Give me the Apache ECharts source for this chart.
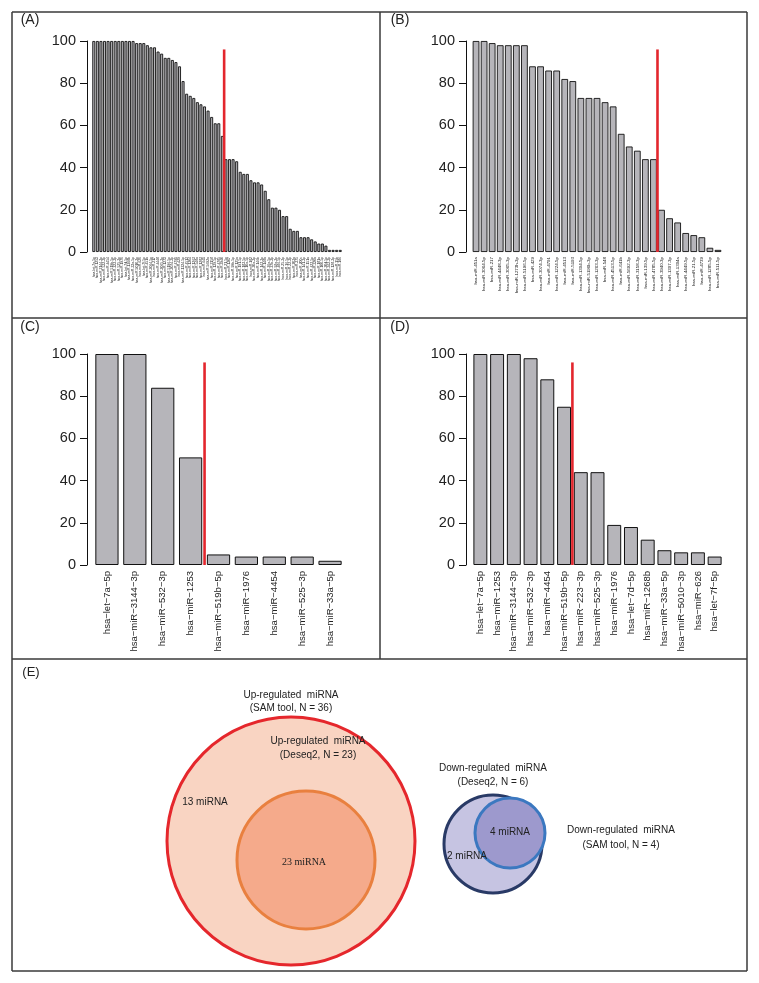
<!DOCTYPE html>
<html><head><meta charset="utf-8">
<script src="https://cdn.jsdelivr.net/npm/echarts@6/dist/echarts.min.js"></script>
<style>html,body{margin:0;padding:0;background:#fff}#c{width:759px;height:983px}</style>
</head><body><div id="c"></div>
<script>
// ---------- DATA ----------
const yTicks = [0, 20, 40, 60, 80, 100];

const namesA = ['hsa-let-7a-5p','hsa-miR-1253','hsa-miR-3144-3p','hsa-miR-532-3p','hsa-miR-4454','hsa-miR-519b-5p','hsa-miR-223-3p','hsa-miR-525-3p','hsa-miR-1976','hsa-let-7d-5p',
 'hsa-miR-1268b','hsa-miR-33a-5p','hsa-miR-5010-3p','hsa-miR-626','hsa-let-7f-5p','hsa-miR-451a','hsa-miR-3064-5p','hsa-miR-217','hsa-miR-4448','hsa-miR-3065-3p',
 'hsa-miR-1273','hsa-miR-5196-5p','hsa-miR-3074-3p','hsa-miR-4791','hsa-miR-429','hsa-miR-1224-5p','hsa-miR-4513','hsa-miR-1304','hsa-miR-1263','hsa-miR-548a',
 'hsa-miR-1283','hsa-miR-641','hsa-miR-5692a','hsa-miR-3158','hsa-miR-139-5p','hsa-miR-4785','hsa-miR-3940','hsa-miR-21-5p','hsa-miR-1307','hsa-miR-99b-5p',
 'hsa-miR-125a','hsa-miR-191-5p','hsa-miR-183-5p','hsa-miR-10a-5p','hsa-miR-182','hsa-miR-30a-3p','hsa-miR-146b','hsa-miR-143-3p','hsa-miR-148a','hsa-miR-26a-5p',
 'hsa-miR-27b-3p','hsa-miR-92a-3p','hsa-miR-486-5p','hsa-miR-25-3p','hsa-miR-16-5p','hsa-miR-22-3p','hsa-miR-203a','hsa-miR-375','hsa-miR-200c','hsa-miR-141-3p',
 'hsa-miR-151a','hsa-miR-423-5p','hsa-miR-320a','hsa-miR-181a','hsa-miR-100-5p','hsa-miR-30d-5p','hsa-miR-342-3p','hsa-miR-128-3p','hsa-miR-15b','hsa-miR-186'];
const valuesA = [100,100,100,100,100,100,100,100,100,100,100,100,99,99,99,98,97,97,95,94,92,92,91,90,88,81,75,74,73,71,70,69,67,64,61,61,55,
 44,44,44,43,38,37,37,34,33,33,32,29,25,21,21,20,17,17,11,10,10,7,7,7,6,5,4,4,3,1,1,1,1];
const cutA = 37;

const namesB = ['hsa-miR-451a','hsa-miR-3064-5p','hsa-miR-217','hsa-miR-4448-3p','hsa-miR-3065-3p','hsa-miR-1273h-3p','hsa-miR-5196-5p','hsa-miR-429','hsa-miR-3074-3p','hsa-miR-4791',
 'hsa-miR-1224-5p','hsa-miR-4513','hsa-miR-5193','hsa-miR-1304-5p','hsa-miR-5196b-3p','hsa-miR-1263-3p','hsa-miR-548','hsa-miR-4513-5p','hsa-miR-641b','hsa-miR-5692-3p',
 'hsa-miR-3158-3p','hsa-miR-139-5p','hsa-miR-4785-5p','hsa-miR-3940-3p','hsa-miR-1307-3p','hsa-miR-1304a','hsa-miR-4449-5p','hsa-miR-21-5p','hsa-miR-4739','hsa-miR-1285-5p','hsa-miR-511-5p'];
const valuesB = [100,100,99,98,98,98,98,88,88,86,86,82,81,73,73,73,71,69,56,50,48,44,44,20,16,14,9,8,7,2,1];
const cutB = 23;

const namesC = ['hsa−let−7a−5p','hsa−miR−3144−3p','hsa−miR−532−3p','hsa−miR−1253','hsa−miR−519b−5p','hsa−miR−1976','hsa−miR−4454','hsa−miR−525−3p','hsa−miR−33a−5p'];
const valuesC = [100,100,84,51,5,4,4,4,2];
const cutC = 4;

const namesD = ['hsa−let−7a−5p','hsa−miR−1253','hsa−miR−3144−3p','hsa−miR−532−3p','hsa−miR−4454','hsa−miR−519b−5p','hsa−miR−223−3p','hsa−miR−525−3p','hsa−miR−1976','hsa−let−7d−5p',
 'hsa−miR−1268b','hsa−miR−33a−5p','hsa−miR−5010−3p','hsa−miR−626','hsa−let−7f−5p'];
const valuesD = [100,100,100,98,88,75,44,44,19,18,12,7,6,6,4];
const cutD = 6;

const cutTop = 96;

// Venn: set sizes
const vennUpSAM = 36, vennUpDeseq = 23, vennDownDeseq = 6, vennDownSAM = 4;

// ---------- CHART ----------
const chart = echarts.init(document.getElementById('c'), null, {renderer:'canvas'});
const FONT = 'Liberation Sans, Arial, Helvetica, sans-serif';
const barColor = '#b6b5ba';

const panels = [
  {names:namesA, values:valuesA, cut:cutA, left:92, top:41, width:250, height:211, off:5, lab:{fontSize:3.4, margin:5}},
  {names:namesB, values:valuesB, cut:cutB, left:472, top:41, width:250, height:211, off:6, lab:{fontSize:4.4, margin:5}},
  {names:namesC, values:valuesC, cut:cutC, left:93, top:354, width:251, height:211, off:6, lab:{fontSize:9.5, margin:6}},
  {names:namesD, values:valuesD, cut:cutD, left:472, top:354, width:251, height:211, off:6, lab:{fontSize:9.5, margin:6}}
];

const grid = [], xAxis = [], yAxis = [], series = [];
panels.forEach((p, i) => {
  grid.push({left:p.left, top:p.top, width:p.width, height:p.height, containLabel:false});
  xAxis.push({type:'category', gridIndex:i, data:p.names, boundaryGap:true,
    axisLine:{show:false}, axisTick:{show:false},
    axisLabel:{rotate:90, interval:0, fontSize:p.lab.fontSize, margin:p.lab.margin, color:'#222', fontFamily:FONT}});
  yAxis.push({type:'value', gridIndex:i, min:0, max:100, interval:20, offset:p.off,
    axisLine:{show:true, lineStyle:{color:'#111', width:1}},
    axisTick:{show:true, length:7, lineStyle:{color:'#111', width:1}},
    axisLabel:{fontSize:14.5, color:'#222', margin:11, fontFamily:FONT},
    splitLine:{show:false}});
  series.push({type:'bar', xAxisIndex:i, yAxisIndex:i, data:p.values, barCategoryGap:'16.7%',
    itemStyle:{color:barColor, borderColor:'#111', borderWidth: i<2 ? 0.9 : 1}, animation:false});
  series.push({type:'custom', xAxisIndex:i, yAxisIndex:i, data:[[p.cut, cutTop]], z:5, animation:false,
    renderItem:(params, api) => {
      const band = api.size([1, 0])[0];
      const p0 = api.coord([api.value(0), 0]);
      const p1 = api.coord([api.value(0), api.value(1)]);
      const x = p0[0] - band/2;
      return {type:'line', shape:{x1:x, y1:p0[1], x2:x, y2:p1[1]}, style:{stroke:'#e3262d', lineWidth:2.6}};
    }});
});

// Panel E grid (pixel-like units, y downward)
grid.push({left:12, top:659, width:735, height:312});
xAxis.push({type:'value', gridIndex:4, min:0, max:735, show:false});
yAxis.push({type:'value', gridIndex:4, min:0, max:312, inverse:true, show:false});

const vennCircles = [
  {n:vennUpSAM,    cx:279, cy:182, fill:'#f9d4c2', stroke:'#e5272c'},
  {n:vennUpDeseq,  cx:294, cy:201, fill:'#f5aa8b', stroke:'#e9803f'},
  {n:vennDownDeseq,cx:481, cy:185, fill:'#c6c4e2', stroke:'#293a66'},
  {n:vennDownSAM,  cx:498, cy:174, fill:'#9d99cd', stroke:'#3b78c0'}
];
const radii = [124, 69, 49, 35];
series.push({type:'custom', xAxisIndex:4, yAxisIndex:4, animation:false,
  data: vennCircles.map((c, k) => [c.cx, c.cy, radii[k], k]),
  renderItem:(params, api) => {
    const k = api.value(3);
    const c = api.coord([api.value(0), api.value(1)]);
    const r = api.size([api.value(2), 0])[0];
    return {type:'circle', shape:{cx:c[0], cy:c[1], r:r},
      style:{fill:vennCircles[k].fill, stroke:vennCircles[k].stroke, lineWidth:3}};
  }});

// ---------- FRAMES & TEXT ----------
const frame = '#3a3a3a';
const L = (x1,y1,x2,y2) => ({type:'line', shape:{x1,y1,x2,y2}, style:{stroke:frame, lineWidth:1.5}, z:100});
const T = (x, y, text, opt={}) => ({type:'text', x, y, z:100, style:Object.assign({text, fill:'#222', font:'10px '+FONT, textAlign:'center', textVerticalAlign:'middle'}, opt)});

const graphic = [
  L(12,12,747,12), L(12,971,747,971), L(12,12,12,971), L(747,12,747,971),
  L(380,12,380,659), L(12,318,747,318), L(12,659,747,659),
  T(30,20,'(A)',{font:'14px '+FONT}), T(400,20,'(B)',{font:'14px '+FONT}),
  T(30,327,'(C)',{font:'14px '+FONT}), T(400,327,'(D)',{font:'14px '+FONT}),
  T(31,672,'(E)',{font:'13px '+FONT}),
  T(291,695,'Up-regulated  miRNA'), T(291,708,'(SAM tool, N = '+vennUpSAM+')'),
  T(318,741,'Up-regulated  miRNA'), T(318,755,'(Deseq2, N = '+vennUpDeseq+')'),
  T(205,802,'13 miRNA'),
  T(304,862,'23 miRNA',{font:'10px Liberation Serif, Times New Roman, serif'}),
  T(493,768,'Down-regulated  miRNA'), T(493,782,'(Deseq2, N = '+vennDownDeseq+')'),
  T(467,856,'2 miRNA'), T(510,832,'4 miRNA'),
  T(621,830,'Down-regulated  miRNA'), T(621,845,'(SAM tool, N = '+vennDownSAM+')')
];

chart.setOption({animation:false, backgroundColor:'#fff', grid, xAxis, yAxis, series, graphic});
</script>
</body></html>
